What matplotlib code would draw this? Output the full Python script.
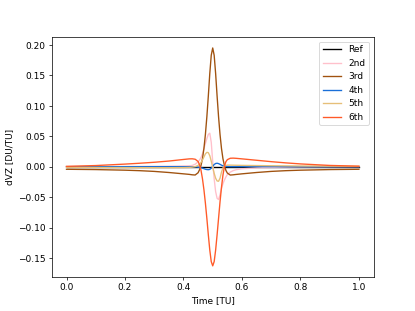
import matplotlib
matplotlib.use("Agg")
import matplotlib.pyplot as plt

time = [0.0, 0.1, 0.2, 0.25, 0.3, 0.35, 0.4, 0.42, 0.43, 0.44, 0.45, 0.455, 0.46, 0.465, 0.47,
        0.475, 0.48, 0.485, 0.49, 0.495, 0.5, 0.505, 0.51, 0.515, 0.52, 0.525, 0.53, 0.535,
        0.54, 0.545, 0.55, 0.56, 0.57, 0.58, 0.6, 0.65, 0.7, 0.75, 0.8, 0.9, 1.0]

ref = [0.0] * len(time)

second = [0.0, 0.0, 0.0002, 0.0003, 0.0004, 0.0006, 0.001, 0.0015, 0.002, 0.004, 0.008, 0.011,
          0.015, 0.021, 0.030, 0.038, 0.046, 0.053, 0.055, 0.040, 0.008, -0.020, -0.041, -0.052,
          -0.054, -0.046, -0.036, -0.028, -0.022, -0.017, -0.013, -0.009, -0.0065, -0.005,
          -0.0035, -0.002, -0.0012, -0.0008, -0.0005, -0.0002, 0.0]

third = [-0.0043, -0.0048, -0.0058, -0.0066, -0.0078, -0.0096, -0.0118, -0.0127, -0.0134,
         -0.0137, -0.0100, -0.005, 0.002, 0.013, 0.030, 0.053, 0.082, 0.116, 0.153, 0.183,
         0.195, 0.183, 0.153, 0.116, 0.082, 0.053, 0.030, 0.013, 0.002, -0.006, -0.0105,
         -0.0138, -0.0134, -0.0128, -0.0118, -0.0096, -0.0078, -0.0066, -0.0058, -0.0048, -0.0043]

fourth = [0.0, 0.0, 0.0, 0.0, 0.0, 0.0, 0.0, -0.0001, -0.0002, -0.0003, -0.0008, -0.0012,
          -0.0018, -0.0025, -0.0033, -0.0042, -0.0048, -0.005, -0.0045, -0.0025, 0.0005,
          0.0035, 0.0052, 0.0056, 0.005, 0.0038, 0.0025, 0.0014, 0.0007, 0.0003, 0.0001,
          0.0, 0.0, 0.0, 0.0, 0.0, 0.0, 0.0, 0.0, 0.0, 0.0]

fifth = [-0.001, -0.0013, -0.0015, -0.0016, -0.0017, -0.0017, -0.0015, -0.0012, -0.0008, 0.0,
         0.002, 0.004, 0.007, 0.011, 0.016, 0.021, 0.0235, 0.023, 0.018, 0.009, -0.001, -0.011,
         -0.019, -0.0235, -0.024, -0.019, -0.009, -0.002, 0.001, 0.002, 0.0025, 0.0025, 0.0024,
         0.0023, 0.0021, 0.0018, 0.0015, 0.0013, 0.0011, 0.0008, 0.0005]

sixth = [0.0005, 0.0018, 0.0042, 0.0056, 0.0072, 0.0092, 0.0118, 0.0128, 0.0129, 0.0122,
         0.0085, 0.003, -0.006, -0.020, -0.038, -0.060, -0.085, -0.112, -0.137, -0.156, -0.163,
         -0.156, -0.137, -0.112, -0.085, -0.058, -0.034, -0.014, 0.0, 0.008, 0.0115, 0.0138,
         0.014, 0.0137, 0.0128, 0.0105, 0.0082, 0.0062, 0.0045, 0.002, 0.0008]

labels = ["Ref", "2nd", "3rd", "4th", "5th", "6th"]
series = [ref, second, third, fourth, fifth, sixth]
colors = ["black", "pink", "#a0520f", "#1a6fd8", "#e6bf78", "#ff5a28"]

fig, ax = plt.subplots(figsize=(6.4, 4.8), dpi=64.85)
for vals, lab, col in zip(series, labels, colors):
    ax.plot(time, vals, color=col, label=lab, linewidth=1.5)

ax.set_xlabel("Time [TU]")
ax.set_ylabel("dVZ [DU/TU]")
ax.legend(loc="upper right")
fig.savefig("out.png", dpi=64.85)
